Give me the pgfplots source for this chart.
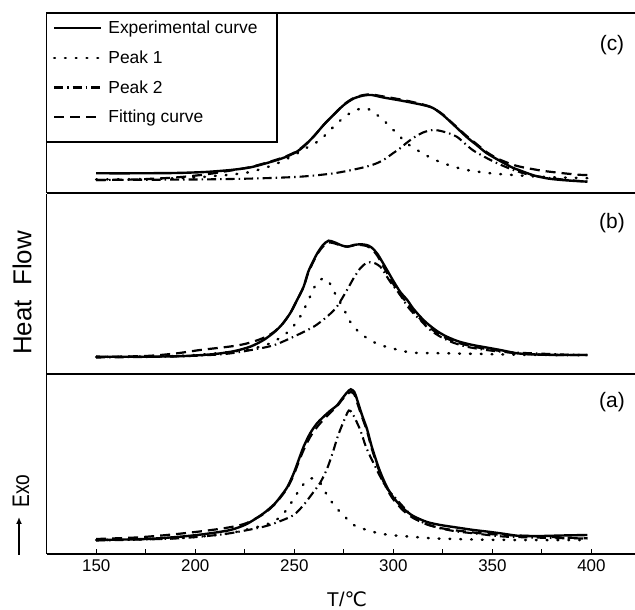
\documentclass[border=0pt]{standalone}
\usepackage{pgfplots}
\pgfplotsset{compat=1.18}
\usetikzlibrary{arrows.meta}
\usepackage{fontspec}
\setmainfont{Liberation Sans}
\newfontfamily\dejavu{DejaVu Sans}

\pgfplotsset{
  panel/.style={width=588.3bp, height=180bp, scale only axis,
    xmin=125, xmax=422, ymin=0, ymax=180,
    axis x line*=bottom, axis y line*=left,
    axis line style={line width=1.3bp, black},
    xtick=\empty, ytick=\empty, clip=false},
  exp/.style={black, line width=2.4bp, smooth, tension=0.45},
  pone/.style={black, line width=2.5bp, line cap=round, dash pattern=on 0.8bp off 10bp, smooth, tension=0.45},
  ptwo/.style={black, line width=2.1bp, dash pattern=on 9bp off 4bp on 1.5bp off 4bp, smooth, tension=0.45},
  fit/.style={black, line width=2.2bp, dash pattern=on 10bp off 6bp, smooth, tension=0.45},
}

\begin{document}
\begin{tikzpicture}[x=1bp,y=1bp]
\useasboundingbox (0,0) rectangle (635,610);

% ---------- (c) top ----------
\begin{axis}[panel, at={(46.7bp,417bp)}, anchor=south west,
  legend style={at={(0,1)}, anchor=north west, draw=none, fill=white,
    font=\fontsize{17.5}{20}\selectfont, inner xsep=6bp, inner ysep=6bp,
    row sep=11.5bp, column sep=4bp},
  legend cell align=left,
  legend image code/.code={\draw[#1] (0bp,0bp) -- (47bp,0bp);}]
\addplot[exp] coordinates {(150,19.7)(170,19.7)(190,20)(205,21)(218,23)(228,25.7)(238,31)(245,35.5)(251,41)(255,47)(260,57)(265,68.5)(270,78.5)(275,88)(280,94.5)(285,97.5)(289,98)(295,95.5)(305,92)(315,88)(320,85)(325,78)(330,69)(337,56)(342,48)(347,40)(353,33)(360,25.5)(364,22.5)(371,17.5)(378,14.5)(385,13)(392,12)(398,11.3)};
\addlegendentry{Experimental curve}
\addplot[pone] coordinates {(150,13.5)(175,14)(195,15)(210,17)(225,20)(235,25)(243,31)(250,38)(256,45)(263,53)(269,64.7)(275,75.5)(280,82)(284,84.5)(287,84.3)(290,81)(293,76)(297.6,68)(302.7,57.5)(308,48)(314.5,40)(320,34)(325.4,29.7)(331,26)(337,23)(349,19.7)(360,18)(374,16.3)(384,15.5)(398,14.8)};
\addlegendentry{Peak 1}
\addplot[ptwo] coordinates {(150,13)(200,13.5)(230,14.5)(253,16.3)(270,19.7)(283,24.7)(290,28.5)(295,33)(300,40)(303,44)(306,49)(310,55)(315,60.5)(320,63)(325,61.5)(332,56.3)(340,43)(349,33)(355,27.5)(360.6,23)(367,19)(374,16.3)(381,14.5)(388,13)(398,11.3)};
\addlegendentry{Peak 2}
\addplot[fit] coordinates {(150,13)(170,13.5)(190,15.5)(205,18.5)(218,22.5)(228,26)(238,31.5)(245,36)(251,41.5)(255,47.5)(260,57)(265,68.5)(270,78.5)(275,88.5)(280,95)(285,98)(289,98.5)(295,96.5)(305,93)(315,88.5)(320,85)(325,78.5)(330,69.5)(337,57)(342,49)(347,41)(353,34)(360,28.5)(364,26.3)(370,24)(376,22)(386,19.7)(394,18.2)(398,18)};
\addlegendentry{Fitting curve}
\draw[line width=1.3bp] (rel axis cs:0,1) -- (rel axis cs:1,1);
\end{axis}
\draw[line width=1.2bp] (46.7,597) rectangle (277,468);

% ---------- (b) middle ----------
\begin{axis}[panel, at={(46.7bp,236bp)}, anchor=south west]
\addplot[exp] coordinates {(150,17.3)(175,17.3)(195,18)(210,20)(220,23)(228,27.5)(234.5,34)(240,42)(244,50)(248,61)(251.4,74)(254.7,87.3)(257,102)(259.8,114)(262,122)(264.5,129)(267.3,133.3)(270.5,131.5)(274,128.5)(277,127.3)(280,129)(283.3,129.7)(286.5,129)(289,126.5)(292,120)(296.8,104)(300,93)(303.5,82)(307,74)(310,65.5)(313.6,57.3)(317,50.7)(322,43)(327,37.3)(333,32.5)(340,29)(347,26.5)(354,24)(362.5,20.7)(372,19.5)(385,19)(398,19)};
\addplot[pone] coordinates {(150,17)(190,18)(210,20.5)(225,24)(235,28.5)(241,34)(246,40.7)(251.4,52.3)(254.7,64)(257.2,74)(259.8,85.7)(262,92)(264.5,95.7)(267,93)(269,87)(271.5,76.7)(274.9,65.7)(277.4,54.7)(281.6,44)(287.5,34.7)(293.4,29)(299.3,25.7)(304.3,23.3)(310,21.3)(327,20.7)(345,20)(362,19.3)(380,19)(398,19)};
\addplot[ptwo] coordinates {(150,16.5)(190,17.5)(215,20)(231,25)(240,29)(249.7,37.3)(259.8,47.3)(266.5,57.3)(271.5,67.3)(276.6,84)(280,96)(283.3,105.7)(286,110.5)(288.4,111.8)(291,110.5)(293.4,107.3)(295,103)(298.5,92)(303.5,79)(307,68)(310,61)(313.6,54)(318,45)(323.7,37.3)(330,31.5)(337,27.3)(345,24.5)(354,22.3)(362,21.3)(370.7,20.7)(385,19.5)(398,19)};
\addplot[fit] coordinates {(150,17)(175,18)(190,20.5)(202.5,24)(217.7,27.5)(225,30)(231,33.5)(236,37.5)(240,42.5)(244,50)(248,61)(251.4,74)(254.7,87)(257,101)(259.8,113)(262,121)(264.5,127.5)(267.3,131.5)(270.5,130.5)(274,128)(277,127.5)(280,128.5)(283.3,129)(286.5,128)(289,125)(292,118)(296.8,101)(300,90)(303.5,79)(307,71)(310,63)(313.6,55)(317,48.5)(322,41)(327,35.5)(333,31)(340,27.5)(347,25)(354,23)(362.5,20.5)(372,19.5)(385,19)(398,19)};
\end{axis}

% ---------- (a) bottom ----------
\begin{axis}[panel, at={(46.7bp,56bp)}, anchor=south west,
  xtick={150,200,...,400}, minor xtick={175,225,...,375},
  tick align=inside, major tick length=5bp, minor tick length=5bp,
  tick style={line width=1bp, black},
  xticklabel style={font=\fontsize{17}{20}\selectfont, yshift=-2bp},
  /pgf/number format/assume math mode=true]
\addplot[exp] coordinates {(150,14)(175,15)(192.4,17.3)(205,20)(217.7,24)(226,30)(234.5,40.7)(240,50)(243,57.3)(246.5,67)(249.7,80.7)(252,93)(254.7,107.3)(258,120.7)(261.5,130.7)(264.8,137.3)(268,143)(271.5,148.5)(274,155)(276.6,161.5)(278.5,164.7)(280.3,162)(281.6,155)(284,140)(286.7,125)(289,108)(291.8,90.7)(294,79)(297,66)(300.2,56)(305,45.5)(310,38)(317,32)(323.7,29)(332,26.5)(340.5,24)(347,22.5)(354,20.7)(364,18)(375,18)(385,18.5)(398,19)};
\addplot[pone] coordinates {(150,14)(180,15)(200,17)(215,20)(225,24)(235,29)(240,33)(244,39)(247,47)(250,56)(253,65.7)(256,72.5)(258.5,75.7)(261,74.5)(263,71.5)(266.5,59)(270.7,47.3)(275.8,36.7)(280.8,28)(286.7,24)(292.6,20.7)(298.5,19)(304.3,18)(320,15.7)(340,14.5)(360,14)(398,14)};
\addplot[ptwo] coordinates {(150,13.5)(190,15.5)(215,20)(234.5,27.3)(243,33)(249.7,39)(254.7,49)(259.8,62.3)(263,71)(266.5,85)(269.5,102)(272,118)(275,133)(277.5,143.5)(279.5,140)(283.3,124)(286,108)(288.4,97.3)(290,91)(293.4,77.3)(297,65)(301.9,54)(306,45)(310,37.3)(316,30.5)(323.7,25.7)(332,22.5)(340.5,20.7)(350,18.5)(357,17.3)(370,16.5)(387.7,15.7)(398,15.5)};
\addplot[fit] coordinates {(150,15)(170,16.5)(185.7,19)(200,22)(210,24.5)(219,27.3)(226,31)(234.5,40)(240,49.5)(243,56.5)(246.5,66)(249.7,79)(252,91)(254.7,104)(258,117)(261.5,127)(264.8,134.5)(268,141)(271.5,147.5)(274,154)(276.6,159.5)(278.5,162)(280.3,159.5)(281.6,152)(284,138)(286.7,123)(289,106)(291.8,89)(294,77)(297,64)(300.2,54)(305,43.5)(310,36)(317,29.5)(323.7,26)(330,24)(337,22.3)(345,20.5)(357,19)(370,18)(385,16.5)(398,15.7)};
\end{axis}

% labels
\node[font=\fontsize{21}{24}\selectfont] at (612,565) {(c)};
\node[font=\fontsize{21}{24}\selectfont] at (612,387) {(b)};
\node[font=\fontsize{21}{24}\selectfont] at (612,208) {(a)};
\node[rotate=90, font=\fontsize{26}{30}\selectfont] at (22,317) {Heat\ \ Flow};
\draw[line width=1.4bp, -{Latex[length=7bp,width=6bp]}] (19,55) -- (19,93);
\node[rotate=90, font=\fontsize{24}{27}\selectfont] at (21,119) {\scalebox{0.8}[1]{Exo}};
\node[font=\fontsize{20}{23}\selectfont] at (347,11) {T/{\dejavu ℃}};
\end{tikzpicture}
\end{document}
